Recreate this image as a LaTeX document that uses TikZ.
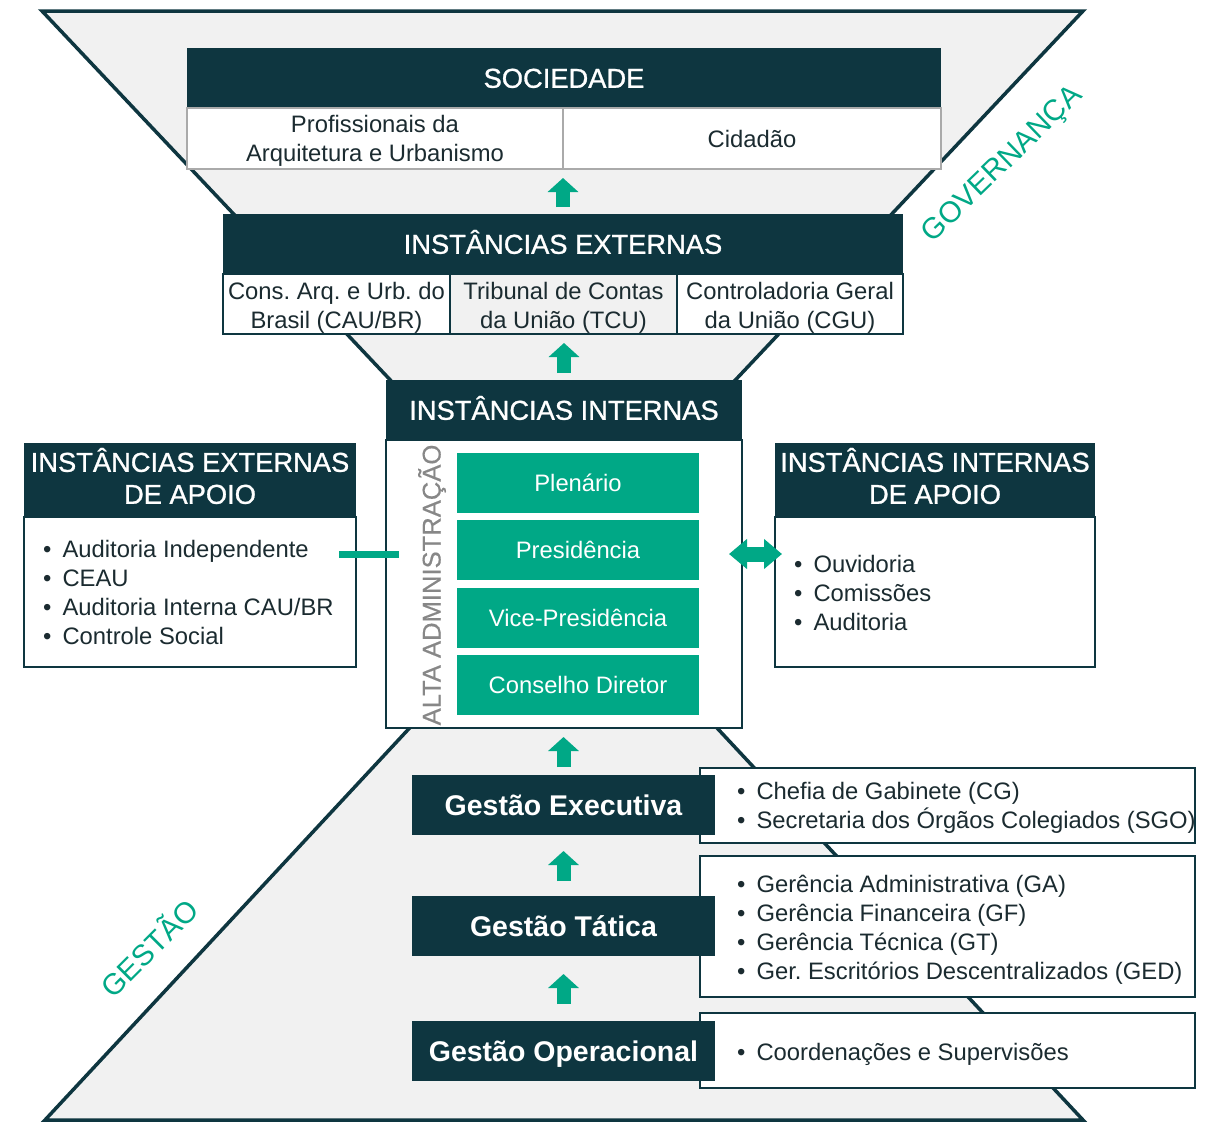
\documentclass[tikz,border=0pt]{standalone}
\usepackage{fontspec}
\setmainfont{Liberation Sans}
\usetikzlibrary{arrows.meta}
\frenchspacing
\definecolor{dk}{HTML}{0E3640}
\definecolor{gr}{HTML}{00A886}
\definecolor{lg}{HTML}{F1F1F1}
\definecolor{bd}{HTML}{AAAAAA}
\definecolor{tx}{HTML}{1B2B30}
\definecolor{altg}{HTML}{878787}
\newcommand\bl{•\hspace{11pt}}
\tikzset{
  box/.style={rectangle, inner sep=0pt, outer sep=0pt},
  hfont/.style={font=\fontsize{27.3}{32}\selectfont\addfontfeature{FakeBold=1}},
  hdr/.style={box, fill=dk, text=white, hfont, align=center, text height=19.5pt, text depth=0pt},
  hdrbox/.style={box, fill=dk},
  htext/.style={box, text=white, hfont, align=center},
  cell/.style={box, fill=white, draw=bd, line width=1.5pt, text=tx, font=\fontsize{23.8}{29}\selectfont, align=center},
  ecell/.style={box, fill=white, draw=dk, line width=1.5pt, minimum height=60pt},
  ctext/.style={box, text=tx, font=\fontsize{23.8}{29}\selectfont, align=center},
  frame/.style={box, fill=white, draw=dk, line width=1.5pt},
  gbox/.style={box, fill=gr, text=white, font=\fontsize{23.8}{29}\selectfont, minimum width=242pt, minimum height=60pt},
  gest/.style={box, fill=dk, text=white, font=\bfseries\fontsize{28.5}{32}\selectfont, minimum width=303pt, minimum height=60pt, text height=20.4pt, text depth=0pt},
  ltext/.style={anchor=west, align=left, text=tx, font=\fontsize{23.8}{29}\selectfont, inner sep=0pt},
  uparr/.style={draw=gr, line width=14pt, -{Triangle[width=30pt,length=14pt]}},
  slant/.style={text=gr, font=\fontsize{29.5}{30}\selectfont},
}
\begin{document}
\begin{tikzpicture}[x=1pt,y=-1pt]
\useasboundingbox (0,0) rectangle (1205,1122);
% hourglass
\draw[fill=lg, draw=dk, line width=3.5pt] (42,11) -- (1083,11) -- (563,563) -- (1083,1120) -- (45,1120) -- (563,563) -- cycle;

% slanted labels
\node[slant, rotate=44] (gov) at (1003,165) {GOVERNANÇA};
\node[slant, rotate=45] (ges) at (148,947) {GESTÃO};

% Sociedade
\node[hdr, minimum width=754pt, minimum height=60pt] (soc) at (564,78) {SOCIEDADE};
\node[cell, minimum width=376pt, minimum height=61pt] (prof) at (375,138.5) {};
\node[ctext] (proft) at ([yshift=-2.5pt]prof.center) {Profissionais da\\Arquitetura e Urbanismo};
\node[cell, minimum width=378pt, minimum height=61pt] (cid) at (752,138.5) {Cidadão};

% Instancias externas
\node[hdr, minimum width=680pt, minimum height=60pt] (ext) at (563,244) {INSTÂNCIAS EXTERNAS};
\node[ecell, minimum width=227pt] (cau) at (336.5,304) {};
\node[ecell, minimum width=227pt, fill=lg] (tcu) at (563.5,304) {};
\node[ecell, minimum width=226pt] (cgu) at (790,304) {};
\node[ctext] (caut) at ([yshift=-3.5pt]cau.center) {Cons. Arq. e Urb. do\\Brasil (CAU/BR)};
\node[ctext] (tcut) at ([yshift=-3.5pt]tcu.center) {Tribunal de Contas\\da União (TCU)};
\node[ctext] (cgut) at ([yshift=-3.5pt]cgu.center) {Controladoria Geral\\da União (CGU)};

% Instancias internas
\node[frame, minimum width=356pt, minimum height=288pt] (body) at (564,584) {};
\node[hdr, minimum width=356pt, minimum height=60pt] (int) at (564,410) {INSTÂNCIAS INTERNAS};
\node[rotate=90, text=altg, font=\fontsize{25.6}{26}\selectfont\addfontfeature{FakeBold=0.4}, inner sep=0pt] (alta) at (432,585) {ALTA ADMINISTRAÇÃO};
\node[gbox] (plen) at (578,483) {Plenário};
\node[gbox] (pres) at (578,550) {Presidência};
\node[gbox] (vice) at (578,618) {Vice-Presidência};
\node[gbox] (cons) at (578,685) {Conselho Diretor};

% Left apoio
\node[frame, minimum width=332pt, minimum height=150pt] (lbody) at (190,592) {};
\node[hdrbox, minimum width=332pt, minimum height=74pt] (lhdr) at (190,480) {};
\node[htext] (lhdrt) at ([yshift=4pt]lhdr.center) {INSTÂNCIAS EXTERNAS\\DE APOIO};
\node[ltext] (llist) at (43,592) {\bl Auditoria Independente\\\bl CEAU\\\bl Auditoria Interna CAU/BR\\\bl Controle Social};

% Right apoio
\node[frame, minimum width=320pt, minimum height=150pt] (rbody) at (935,592) {};
\node[hdrbox, minimum width=320pt, minimum height=74pt] (rhdr) at (935,480) {};
\node[htext] (rhdrt) at ([yshift=4pt]rhdr.center) {INSTÂNCIAS INTERNAS\\DE APOIO};
\node[ltext] (rlist) at (794,593) {\bl Ouvidoria\\\bl Comissões\\\bl Auditoria};

% connectors left/right
\coordinate (ca) at (339,554);
\coordinate (cb) at (399,554);
\draw[draw=gr, line width=7pt] (ca) -- (cb);
\coordinate (da) at (729,554);
\coordinate (db) at (782,554);
\draw[draw=gr, line width=15pt, {Triangle[width=29pt,length=18pt]}-{Triangle[width=29pt,length=18pt]}] (da) -- (db);

% Gestao list boxes
\node[frame, minimum width=495pt, minimum height=75pt] (lex) at (947.5,805.5) {};
\node[ltext] (lext) at (737,807.5) {\bl Chefia de Gabinete (CG)\\\bl Secretaria dos Órgãos Colegiados (SGO)};
\node[frame, minimum width=495pt, minimum height=141pt] (lta) at (947.5,926.5) {};
\node[ltext] (ltat) at (737,930) {\bl Gerência Administrativa (GA)\\\bl Gerência Financeira (GF)\\\bl Gerência Técnica (GT)\\\bl Ger. Escritórios Descentralizados (GED)};
\node[frame, minimum width=495pt, minimum height=75pt] (lop) at (947.5,1050.5) {};
\node[ltext] (lopt) at (737,1054) {\bl Coordenações e Supervisões};

% Gestao boxes
\node[gest] (gex) at (563.5,805) {Gestão Executiva};
\node[gest] (gta) at (563.5,926) {Gestão Tática};
\node[gest] (gop) at (563.5,1051) {Gestão Operacional};

% up arrows
\draw[uparr, shorten <=7pt, shorten >=9pt] (ext.north) -- (ext.north |- prof.south);
\draw[uparr, shorten <=7pt, shorten >=9pt] (int.north) -- (int.north |- tcu.south);
\draw[uparr, shorten <=8pt, shorten >=9pt] (gex.north) -- (gex.north |- body.south);
\draw[uparr, shorten <=15pt, shorten >=16pt] (gta.north) -- (gex.south);
\draw[uparr, shorten <=17pt, shorten >=18pt] (gop.north) -- (gta.south);
\end{tikzpicture}
\end{document}
